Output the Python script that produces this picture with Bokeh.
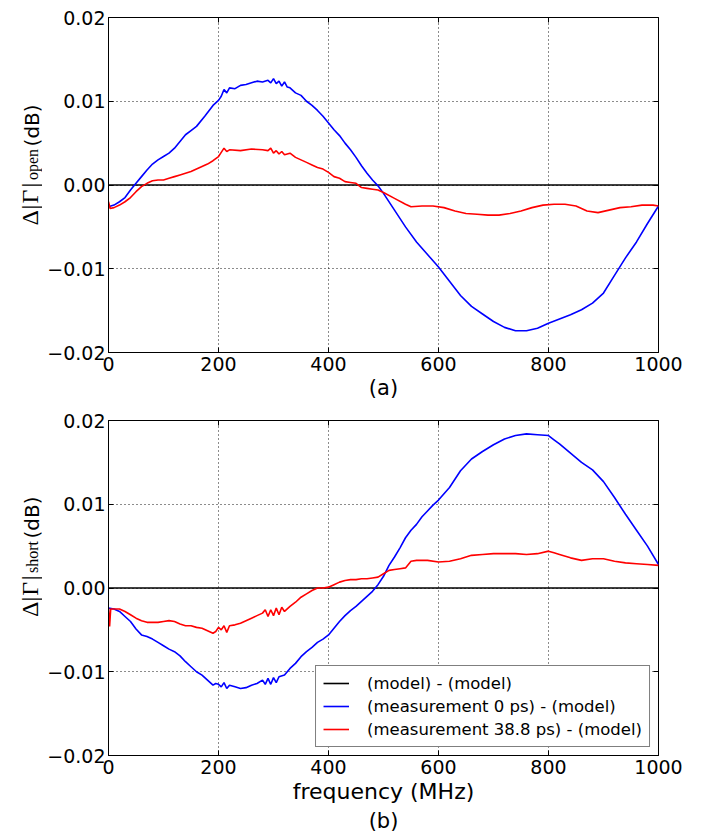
import math
from bokeh.plotting import figure
from bokeh.models import (Range1d, FixedTicker, LinearAxis, CustomJSTickFormatter,
                          Label, Legend, LegendItem, Title)
from bokeh.layouts import column, row
from bokeh.embed import file_html
from bokeh.resources import INLINE

# ---------------- data ----------------
x_ticks = [0, 200, 400, 600, 800, 1000]
y_ticks = [-0.02, -0.01, 0.0, 0.01, 0.02]

model_freq = [0, 1000]
model_diff = [0.0, 0.0]

# panel (a): open, values in 1e-3 dB
open_meas0_freq = [0, 10, 20, 30, 40, 50, 60, 70, 80, 90, 100, 110, 120, 130, 140, 150, 160, 175, 190, 200,
                   205, 210, 215, 220, 230, 240, 250, 260, 270, 280, 290, 295, 300, 305, 310, 315, 320, 325,
                   330, 340, 350, 360, 370, 380, 390, 400, 410, 420, 430, 440, 450, 460, 470, 480, 490, 500,
                   520, 540, 560, 580, 600, 620, 640, 660, 680, 700, 720, 740, 760, 780, 800, 820, 840, 860,
                   880, 900, 920, 940, 960, 980, 1000]
open_meas0_mdb = [-2.6, -2.4, -2.0, -1.5, -0.6, 0.2, 1.0, 1.8, 2.5, 3.0, 3.4, 3.8, 4.4, 5.2, 6.0, 6.5, 7.0, 8.2,
                  9.5, 10.1, 10.6, 11.4, 11.0, 11.6, 11.5, 11.9, 12.0, 12.2, 12.4, 12.3, 12.5, 12.2, 12.7, 12.1,
                  12.4, 11.8, 12.3, 11.7, 11.6, 11.0, 10.7, 10.0, 9.5, 8.9, 8.2, 7.4, 6.6, 5.9, 5.0, 4.2, 3.3,
                  2.3, 1.4, 0.6, -0.1, -1.0, -3.0, -5.0, -6.8, -8.3, -9.8, -11.5, -13.2, -14.5, -15.4, -16.3,
                  -17.0, -17.4, -17.4, -17.1, -16.5, -16.0, -15.5, -14.9, -14.1, -12.9, -10.8, -8.7, -6.8,
                  -4.6, -2.5]

open_meas388_freq = [0, 3, 10, 20, 30, 40, 50, 60, 70, 80, 90, 100, 110, 120, 130, 140, 150, 160, 170, 180, 190,
                     200, 205, 210, 215, 220, 240, 260, 280, 290, 295, 300, 305, 310, 315, 320, 330, 340, 350,
                     360, 370, 380, 390, 400, 410, 420, 430, 440, 450, 460, 470, 480, 490, 500, 520, 540, 550,
                     570, 590, 610, 630, 650, 670, 690, 710, 730, 750, 770, 790, 810, 830, 850, 870, 890, 910,
                     930, 950, 970, 990, 1000]
open_meas388_mdb = [-2.0, -2.8, -2.7, -2.4, -2.0, -1.5, -0.8, -0.2, 0.2, 0.5, 0.6, 0.6, 0.8, 1.0, 1.2, 1.4, 1.6,
                    1.9, 2.2, 2.5, 2.9, 3.4, 3.9, 4.4, 4.0, 4.2, 4.1, 4.3, 4.2, 4.1, 4.4, 3.8, 4.1, 3.7, 4.0,
                    3.6, 3.8, 3.3, 3.0, 2.7, 2.4, 2.1, 1.9, 1.5, 1.0, 0.8, 0.4, 0.3, 0.2, -0.3, -0.4, -0.5,
                    -0.6, -0.9, -1.6, -2.3, -2.6, -2.5, -2.5, -2.7, -3.1, -3.4, -3.5, -3.6, -3.6, -3.4, -3.1,
                    -2.7, -2.4, -2.3, -2.3, -2.5, -3.1, -3.3, -3.0, -2.7, -2.6, -2.4, -2.4, -2.5]

# panel (b): short, values in 1e-3 dB
short_meas0_freq = [0, 10, 20, 30, 40, 50, 60, 70, 80, 90, 100, 110, 120, 130, 140, 150, 160, 170, 180, 190, 195,
                    200, 205, 210, 215, 220, 230, 240, 250, 260, 270, 280, 285, 290, 295, 300, 305, 310, 320,
                    330, 340, 350, 360, 370, 380, 390, 400, 410, 420, 430, 440, 450, 460, 470, 480, 490, 500,
                    510, 520, 530, 540, 550, 560, 570, 580, 590, 600, 620, 640, 660, 680, 700, 720, 740, 760,
                    780, 800, 810, 820, 840, 860, 880, 900, 920, 940, 960, 980, 1000]
short_meas0_mdb = [-2.4, -2.5, -2.8, -3.4, -4.0, -4.9, -5.6, -5.8, -6.1, -6.5, -6.9, -7.3, -7.6, -8.1, -8.8, -9.4,
                   -10.0, -10.4, -11.0, -11.6, -11.4, -11.5, -11.8, -11.3, -12.0, -11.6, -11.8, -12.0, -11.9,
                   -11.6, -11.4, -11.0, -11.5, -10.8, -11.5, -10.7, -11.3, -10.6, -10.4, -9.6, -9.0, -8.2, -7.6,
                   -7.1, -6.5, -6.1, -5.6, -4.8, -4.0, -3.3, -2.7, -2.2, -1.6, -1.0, -0.4, 0.4, 1.4, 2.7, 3.7,
                   4.8, 6.0, 6.9, 7.6, 8.5, 9.2, 9.9, 10.5, 12.0, 14.0, 15.4, 16.3, 17.1, 17.8, 18.2, 18.4,
                   18.3, 18.2, 17.7, 17.2, 16.1, 15.0, 14.1, 12.7, 10.8, 8.8, 6.9, 5.0, 2.8]

short_meas388_freq = [0, 2, 4, 10, 20, 30, 40, 50, 60, 70, 80, 90, 100, 110, 120, 130, 140, 150, 160, 170, 180,
                      190, 195, 200, 205, 210, 215, 220, 230, 240, 250, 260, 270, 280, 285, 290, 295, 300, 305,
                      310, 315, 320, 330, 340, 350, 360, 370, 380, 390, 400, 410, 420, 430, 440, 450, 460, 470,
                      480, 490, 500, 510, 520, 530, 540, 550, 560, 580, 600, 620, 640, 660, 680, 700, 720, 740,
                      760, 780, 800, 810, 820, 840, 860, 880, 900, 920, 940, 960, 980, 1000]
short_meas388_mdb = [-2.4, -4.6, -2.5, -2.5, -2.5, -2.8, -3.2, -3.6, -3.9, -4.1, -4.1, -4.1, -4.0, -3.9, -4.0,
                     -4.3, -4.5, -4.5, -4.7, -4.8, -5.1, -5.4, -5.2, -4.7, -5.0, -4.5, -5.3, -4.5, -4.4, -4.2,
                     -3.9, -3.6, -3.3, -3.0, -2.6, -3.4, -2.6, -3.3, -2.4, -3.2, -2.3, -2.8, -2.2, -1.7, -1.1,
                     -0.7, -0.3, 0.0, 0.0, 0.1, 0.4, 0.7, 0.9, 1.0, 1.0, 1.1, 1.1, 1.2, 1.3, 1.7, 2.1, 2.2, 2.3,
                     2.4, 3.2, 3.3, 3.3, 3.1, 3.2, 3.5, 3.9, 4.0, 4.1, 4.1, 4.1, 4.0, 4.1, 4.4, 4.2, 4.0, 3.6,
                     3.3, 3.5, 3.5, 3.2, 3.0, 2.9, 2.8, 2.7]

legend_labels = ["(model) - (model)",
                 "(measurement 0 ps) - (model)",
                 "(measurement 38.8 ps) - (model)"]

# ---------------- styling helpers ----------------
SANS = "DejaVu Sans"
SERIF = "Liberation Serif"
LABEL_W = 42          # width of the strip holding the y label
FRAME_LEFT = 108      # frame left edge in page pixels
TOP_H = 408
BOT_H = 426


def db(vals):
    return [v * 1e-3 for v in vals]


y_fmt = CustomJSTickFormatter(code="""
if (Math.abs(tick) < 1e-12) { return '0.00'; }
return tick.toFixed(2).replace('-', '\u2212');
""")


def make_panel(height, border_top, border_bottom, xlabel):
    p = figure(width=710 - LABEL_W, height=height, x_range=Range1d(0, 1000), y_range=Range1d(-0.02, 0.02),
               output_backend="svg", toolbar_location=None,
               min_border_left=FRAME_LEFT - LABEL_W, min_border_right=52,
               min_border_top=border_top, min_border_bottom=border_bottom)
    p.background_fill_color = "white"
    p.border_fill_color = "white"
    p.outline_line_color = "black"
    p.outline_line_width = 1

    p.xaxis.ticker = FixedTicker(ticks=x_ticks)
    p.yaxis.ticker = FixedTicker(ticks=y_ticks)
    p.yaxis.formatter = y_fmt
    for ax in (p.xaxis, p.yaxis):
        ax.major_tick_in = 5
        ax.major_tick_out = 0
        ax.minor_tick_in = 0
        ax.minor_tick_out = 0
        ax.axis_line_color = "black"
        ax.major_tick_line_color = "black"
        ax.major_label_text_font = SANS
        ax.major_label_text_font_size = "19px"
        ax.major_label_text_color = "black"
        ax.major_label_standoff = 4
    p.yaxis.major_label_standoff = 3
    p.xaxis.axis_label = xlabel
    p.xaxis.axis_label_text_font = SANS
    p.xaxis.axis_label_text_font_size = "21px"
    p.xaxis.axis_label_text_font_style = "normal"
    p.xaxis.axis_label_text_color = "black"
    p.xaxis.axis_label_standoff = 2

    p.xgrid.ticker = FixedTicker(ticks=x_ticks)
    p.ygrid.ticker = FixedTicker(ticks=y_ticks)
    for g in (p.xgrid, p.ygrid):
        g.grid_line_color = "black"
        g.grid_line_dash = "1 3"
        g.grid_line_width = 1
        g.grid_line_alpha = 0.9

    for loc, ticks in (("above", x_ticks), ("right", y_ticks)):
        ax = LinearAxis(ticker=FixedTicker(ticks=ticks),
                        formatter=CustomJSTickFormatter(code="return '';"),
                        major_tick_in=5, major_tick_out=0, minor_tick_in=0, minor_tick_out=0,
                        major_label_standoff=0, major_label_text_font_size="1px",
                        axis_line_color=None, major_tick_line_color="black")
        p.add_layout(ax, loc)
    return p


def make_label_strip(height, page_top, pieces):
    """Narrow figure to the left of a panel carrying the rotated y label.
    pieces: (text, page_y, baseline_x, font, size, align)"""
    s = figure(width=LABEL_W, height=height, x_range=Range1d(0, LABEL_W), y_range=Range1d(0, height),
               output_backend="svg", toolbar_location=None,
               min_border_left=0, min_border_right=0, min_border_top=0, min_border_bottom=0)
    s.axis.visible = False
    s.grid.visible = False
    s.outline_line_color = None
    s.background_fill_color = "white"
    s.border_fill_color = "white"
    for text, py, bx, font, size, align in pieces:
        s.add_layout(Label(x=bx, y=height - (py - page_top), text=text, angle=math.pi / 2,
                           text_align=align, text_baseline="alphabetic",
                           text_font=font, text_font_size=size, text_color="black"))
    return s


LW = 1.6

# ---------------- panel (a) ----------------
p1 = make_panel(TOP_H, 17, 56, "(a)")
p1.line(model_freq, model_diff, color="black", line_width=LW)
p1.line(open_meas0_freq, db(open_meas0_mdb), color="#0000ff", line_width=LW)
p1.line(open_meas388_freq, db(open_meas388_mdb), color="#ff0000", line_width=LW)
s1 = make_label_strip(TOP_H, 0, [
    ("Δ", 244, 29, SERIF, "24px", "center"),
    ("|", 231, 29, SERIF, "24px", "center"),
    ("Γ", 218, 29, SERIF, "24px", "center"),
    ("|", 204, 29, SERIF, "24px", "center"),
    ("open", 198, 32, SERIF, "16px", "left"),
    ("(dB)", 157, 31, SANS, "20px", "left"),
])

# ---------------- panel (b) ----------------
p2 = make_panel(BOT_H, 12, 79, "frequency (MHz)")
p2.xaxis.axis_label_text_font_size = "22px"
p2.add_layout(Title(text="(b)", align="center", text_font=SANS, text_font_size="21px",
                    text_font_style="normal", text_color="black", standoff=0, offset=0), "below")
r0 = p2.line(model_freq, model_diff, color="black", line_width=LW)
r1 = p2.line(short_meas0_freq, db(short_meas0_mdb), color="#0000ff", line_width=LW)
r2 = p2.line(short_meas388_freq, db(short_meas388_mdb), color="#ff0000", line_width=LW)
s2 = make_label_strip(BOT_H, TOP_H, [
    ("Δ", 648, 29, SERIF, "24px", "center"),
    ("|", 635, 29, SERIF, "24px", "center"),
    ("Γ", 622, 29, SERIF, "24px", "center"),
    ("|", 608, 29, SERIF, "24px", "center"),
    ("short", 602, 32, SERIF, "16px", "left"),
    ("(dB)", 558, 31, SANS, "20px", "left"),
])

legend = Legend(items=[LegendItem(label=legend_labels[0], renderers=[r0]),
                       LegendItem(label=legend_labels[1], renderers=[r1]),
                       LegendItem(label=legend_labels[2], renderers=[r2])],
                location="bottom_right", margin=8, padding=7, spacing=3,
                glyph_width=26, glyph_height=20, label_height=20, label_standoff=18,
                label_text_font=SANS, label_text_font_size="16.5px", label_text_color="black",
                border_line_color="black", border_line_width=1,
                background_fill_color="white", background_fill_alpha=1.0)
p2.add_layout(legend)

layout = column(row(s1, p1, spacing=0), row(s2, p2, spacing=0), spacing=0)
open("out.html", "w").write(file_html(layout, INLINE))
